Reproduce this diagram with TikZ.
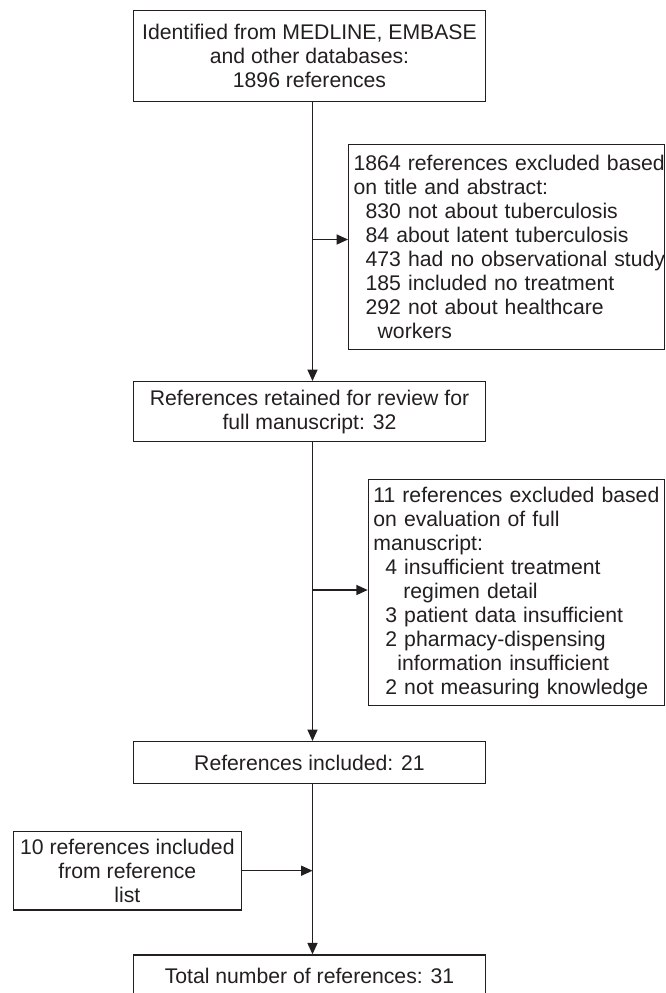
\documentclass[tikz,border=0pt]{standalone}
\usepackage{fontspec}
\setmainfont{Liberation Sans}
\usetikzlibrary{arrows.meta}
\definecolor{ink}{RGB}{35,31,32}
\begin{document}
\begin{tikzpicture}[x=0.75pt,y=-0.75pt,
  box/.style={draw=ink, line width=1pt, rectangle, inner sep=0pt, anchor=north west,
    font=\fontsize{15.9}{18}\selectfont, text=ink},
  cbox/.style={box, align=center},
  lbox/.style={box, align=left, inner xsep=3.75pt},
  arr/.style={draw=ink, line width=1pt, -{Triangle[length=8.5pt,width=7.5pt]}}]
\useasboundingbox (0,0) rectangle (665,993);
\fill[white] (0,0) rectangle (665,993);
% main column boxes
\node[cbox, minimum width=264.2pt, minimum height=68pt] (b1) at (132.7,10)
  {Identified from MEDLINE, EMBASE\\and other databases:\\1896 references};
\node[cbox, minimum width=264.2pt, minimum height=45pt] (b2) at (132.7,381)
  {References retained for review for\\full manuscript: 32};
\node[cbox, minimum width=264.2pt, minimum height=31.3pt] (b3) at (132.7,741)
  {References included: 21};
\node[cbox, minimum width=264.2pt, minimum height=31.3pt] (b5) at (132.7,954.3)
  {Total number of references: 31};
\node[cbox, minimum width=171pt, minimum height=59pt] (b4) at (12.7,830.7)
  {10 references included\\from reference\\list};
% exclusion boxes
\node[lbox, text width=229.5pt, minimum height=153.75pt] (e1) at (348,144)
  {\mbox{1864 references excluded based}\\
   \mbox{on title and abstract:}\\
   \mbox{\hspace*{9pt}830 not about tuberculosis}\\
   \mbox{\hspace*{9pt}84 about latent tuberculosis}\\
   \mbox{\hspace*{9pt}473 had no observational study}\\
   \mbox{\hspace*{9pt}185 included no treatment}\\
   \mbox{\hspace*{9pt}292 not about healthcare}\\
   \mbox{\hspace*{18pt}workers}};
\node[lbox, text width=214.7pt, minimum height=169.5pt] (e2) at (367.7,479)
  {\mbox{11 references excluded based}\\
   \mbox{on evaluation of full}\\
   \mbox{manuscript:}\\
   \mbox{\hspace*{9pt}4 insufficient treatment}\\
   \mbox{\hspace*{22.5pt}regimen detail}\\
   \mbox{\hspace*{9pt}3 patient data insufficient}\\
   \mbox{\hspace*{9pt}2 pharmacy-dispensing}\\
   \mbox{\hspace*{18pt}information insufficient}\\
   \mbox{\hspace*{9pt}2 not measuring knowledge}};
% spine and junctions
\coordinate (sp) at (312.5,0);
\coordinate (j1) at (312.5,239.5);
\coordinate (j2) at (312.5,590);
% connectors
\draw[arr] (b1.south -| sp) -- (b2.north -| sp);
\draw[arr] (j1) -- (j1 -| e1.west);
\draw[arr] (b2.south -| sp) -- (b3.north -| sp);
\draw[arr] (j2) -- (j2 -| e2.west);
\draw[arr] (b3.south -| sp) -- (b5.north -| sp);
\draw[arr] (b4.east) -- (b4.east -| sp);
\end{tikzpicture}
\end{document}
